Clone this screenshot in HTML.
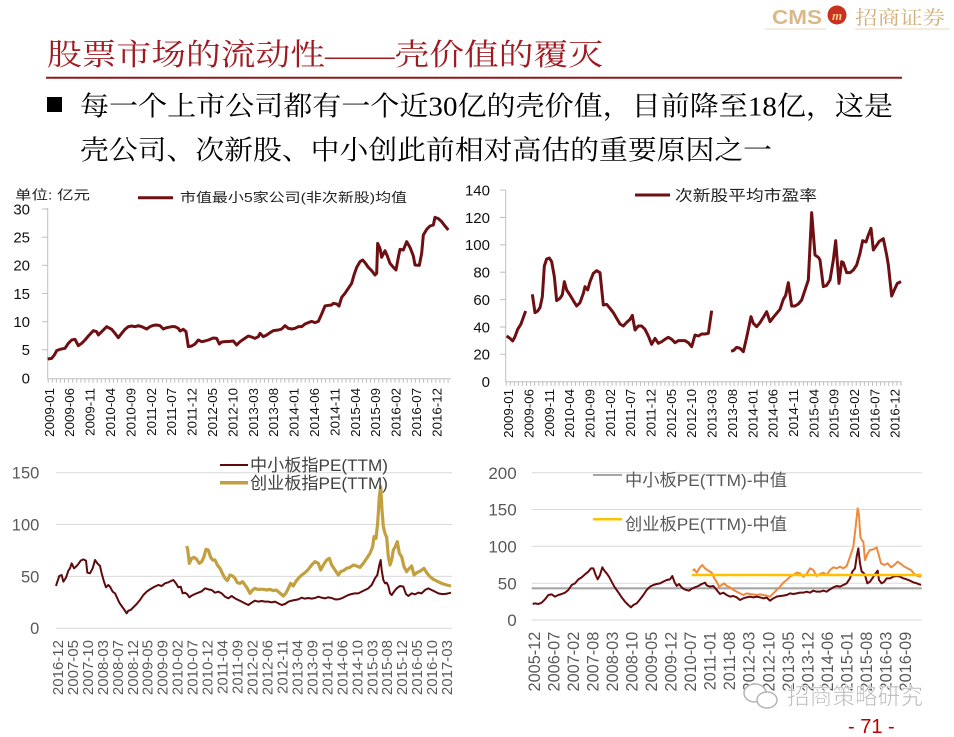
<!DOCTYPE html>
<html><head><meta charset="utf-8">
<style>
html,body{margin:0;padding:0;background:#fff;}
svg{display:block;}
.ax{font-family:"Liberation Sans",sans-serif;}
.cj{font-family:"Liberation Sans","Noto Sans CJK SC",sans-serif;}
.sf{font-family:"Liberation Serif","Noto Serif CJK SC",serif;}
</style></head><body>
<svg width="954" height="737" viewBox="0 0 954 737" xmlns="http://www.w3.org/2000/svg">
<rect width="954" height="737" fill="#fff"/>

<!-- Logo -->
<text x="772" y="24" class="ax" font-size="20" font-weight="bold" fill="#D9B98A" textLength="50" lengthAdjust="spacingAndGlyphs">CMS</text>
<circle cx="837" cy="15" r="9.5" fill="#C8321E"/>
<text x="837" y="20" class="sf" font-size="13" font-style="italic" font-weight="bold" fill="#F6D08A" text-anchor="middle">m</text>
<text x="855" y="24" class="sf" font-size="19" fill="#D2B07C" textLength="90" lengthAdjust="spacingAndGlyphs">招商证券</text>
<line x1="765" y1="29" x2="826" y2="29" stroke="#E8D8BC" stroke-width="1"/>
<line x1="855" y1="29" x2="950" y2="29" stroke="#E8D8BC" stroke-width="1"/>

<!-- Title -->
<text x="47" y="65" class="sf" font-size="30" fill="#A01A20" textLength="556" lengthAdjust="spacingAndGlyphs">股票市场的流动性——壳价值的覆灭</text>
<line x1="46" y1="77.7" x2="902" y2="77.7" stroke="#8E1C1E" stroke-width="2"/>

<!-- Bullet text -->
<rect x="47" y="97" width="15" height="15" fill="#000"/>
<text x="80" y="115.5" class="sf" font-size="27" fill="#000" textLength="813" lengthAdjust="spacingAndGlyphs">每一个上市公司都有一个近30亿的壳价值，目前降至18亿，这是</text>
<text x="80" y="159.5" class="sf" font-size="27" fill="#000" textLength="692" lengthAdjust="spacingAndGlyphs">壳公司、次新股、中小创此前相对高估的重要原因之一</text>

<!-- ============ Chart 1 (top-left) ============ -->
<text x="15" y="199.5" class="cj" font-size="13" fill="#222" textLength="75" lengthAdjust="spacingAndGlyphs">单位: 亿元</text>
<line x1="138" y1="197.7" x2="173" y2="197.7" stroke="#6E1013" stroke-width="3"/>
<text x="180" y="202" class="cj" font-size="13" fill="#222" textLength="227" lengthAdjust="spacingAndGlyphs">市值最小5家公司(非次新股)均值</text>
<g class="ax" font-size="15" fill="#111" text-anchor="end">
<text x="30" y="214.4">30</text>
<text x="30" y="242.6">25</text>
<text x="30" y="270.7">20</text>
<text x="30" y="298.9">15</text>
<text x="30" y="327.1">10</text>
<text x="30" y="355.2">5</text>
<text x="30" y="383.4">0</text>
</g>
<g stroke="#BFBFBF" stroke-width="1">
<line x1="47.7" y1="208" x2="47.7" y2="379"/>
<line x1="42" y1="209" x2="47.7" y2="209"/><line x1="42" y1="237.2" x2="47.7" y2="237.2"/><line x1="42" y1="265.3" x2="47.7" y2="265.3"/><line x1="42" y1="293.5" x2="47.7" y2="293.5"/><line x1="42" y1="321.7" x2="47.7" y2="321.7"/><line x1="42" y1="349.8" x2="47.7" y2="349.8"/>
<line x1="47.7" y1="378.7" x2="451" y2="378.7"/>
</g>
<line x1="47.7" y1="380.8" x2="451" y2="380.8" stroke="#BFBFBF" stroke-width="4" stroke-dasharray="1 3.08"/>
<g class="ax" font-size="13.3" fill="#111" text-anchor="end">
<text transform="translate(53.8,388) rotate(-90)">2009-01</text>
<text transform="translate(74.2,388) rotate(-90)">2009-06</text>
<text transform="translate(94.6,388) rotate(-90)">2009-11</text>
<text transform="translate(115,388) rotate(-90)">2010-04</text>
<text transform="translate(135.4,388) rotate(-90)">2010-09</text>
<text transform="translate(155.8,388) rotate(-90)">2011-02</text>
<text transform="translate(176.2,388) rotate(-90)">2011-07</text>
<text transform="translate(196.6,388) rotate(-90)">2011-12</text>
<text transform="translate(217,388) rotate(-90)">2012-05</text>
<text transform="translate(237.4,388) rotate(-90)">2012-10</text>
<text transform="translate(257.8,388) rotate(-90)">2013-03</text>
<text transform="translate(278.2,388) rotate(-90)">2013-08</text>
<text transform="translate(298.6,388) rotate(-90)">2014-01</text>
<text transform="translate(319,388) rotate(-90)">2014-06</text>
<text transform="translate(339.4,388) rotate(-90)">2014-11</text>
<text transform="translate(359.8,388) rotate(-90)">2015-04</text>
<text transform="translate(380.2,388) rotate(-90)">2015-09</text>
<text transform="translate(400.6,388) rotate(-90)">2016-02</text>
<text transform="translate(421,388) rotate(-90)">2016-07</text>
<text transform="translate(441.4,388) rotate(-90)">2016-12</text>
</g>
<g transform="translate(0,180) scale(0.333333)">
<polyline fill="none" stroke="#6E1013" stroke-width="3" vector-effect="non-scaling-stroke" stroke-linejoin="round" points="143,537 155,535 163,525 170,512 180,508 195,505 205,490 215,480 225,478 235,497 245,490 255,480 265,468 280,452 290,455 295,465 305,455 320,440 335,448 345,460 355,473 365,460 375,448 385,440 395,438 405,440 415,437 425,440 440,447 450,440 460,436 470,435 480,437 490,447 500,443 515,440 525,440 535,445 540,453 550,448 558,455 565,500 575,498 585,492 595,480 605,485 615,483 625,480 640,474 650,475 658,492 665,486 675,485 690,484 700,483 710,495 720,485 730,478 745,468 755,471 765,475 775,470 780,460 790,470 800,465 810,458 820,452 835,450 845,447 855,437 865,445 875,447 885,445 895,440 905,440 915,432 925,428 935,424 945,428 955,424 965,402 975,378 985,376 995,375 1000,370 1010,372 1017,378 1025,352 1035,340 1045,325 1055,310 1062,285 1070,262 1080,245 1088,240 1095,248 1105,262 1115,272 1125,285 1130,280 1133,190 1140,205 1145,232 1155,212 1162,228 1170,250 1180,262 1188,270 1195,232 1200,208 1210,210 1220,185 1230,202 1240,228 1245,255 1258,256 1265,220 1270,165 1280,148 1290,138 1300,135 1305,112 1315,116 1325,125 1335,138 1345,150"/>
</g>

<!-- ============ Chart 2 (top-right) ============ -->
<line x1="635" y1="195" x2="670" y2="195" stroke="#6E1013" stroke-width="3"/>
<text x="675" y="200.5" class="cj" font-size="15" fill="#222" textLength="142" lengthAdjust="spacingAndGlyphs">次新股平均市盈率</text>
<g class="ax" font-size="15" fill="#111" text-anchor="end">
<text x="490" y="195.4">140</text>
<text x="490" y="222.8">120</text>
<text x="490" y="250.2">100</text>
<text x="490" y="277.6">80</text>
<text x="490" y="305">60</text>
<text x="490" y="332.4">40</text>
<text x="490" y="359.7">20</text>
<text x="490" y="387.1">0</text>
</g>
<g stroke="#BFBFBF" stroke-width="1">
<line x1="505.7" y1="190" x2="505.7" y2="381.7"/>
<line x1="500" y1="190" x2="505.7" y2="190"/><line x1="500" y1="217.4" x2="505.7" y2="217.4"/><line x1="500" y1="244.8" x2="505.7" y2="244.8"/><line x1="500" y1="272.2" x2="505.7" y2="272.2"/><line x1="500" y1="299.6" x2="505.7" y2="299.6"/><line x1="500" y1="327" x2="505.7" y2="327"/><line x1="500" y1="354.3" x2="505.7" y2="354.3"/>
<line x1="505.7" y1="381.7" x2="901.7" y2="381.7"/>
</g>
<line x1="505.7" y1="383.7" x2="901.7" y2="383.7" stroke="#BFBFBF" stroke-width="4" stroke-dasharray="1 3.07"/>
<g class="ax" font-size="13.3" fill="#111" text-anchor="end">
<text transform="translate(513.1,389) rotate(-90)">2009-01</text>
<text transform="translate(533.4,389) rotate(-90)">2009-06</text>
<text transform="translate(553.8,389) rotate(-90)">2009-11</text>
<text transform="translate(574.1,389) rotate(-90)">2010-04</text>
<text transform="translate(594.5,389) rotate(-90)">2010-09</text>
<text transform="translate(614.8,389) rotate(-90)">2011-02</text>
<text transform="translate(635.2,389) rotate(-90)">2011-07</text>
<text transform="translate(655.5,389) rotate(-90)">2011-12</text>
<text transform="translate(675.9,389) rotate(-90)">2012-05</text>
<text transform="translate(696.2,389) rotate(-90)">2012-10</text>
<text transform="translate(716.6,389) rotate(-90)">2013-03</text>
<text transform="translate(736.9,389) rotate(-90)">2013-08</text>
<text transform="translate(757.3,389) rotate(-90)">2014-01</text>
<text transform="translate(777.6,389) rotate(-90)">2014-06</text>
<text transform="translate(798,389) rotate(-90)">2014-11</text>
<text transform="translate(818.3,389) rotate(-90)">2015-04</text>
<text transform="translate(838.7,389) rotate(-90)">2015-09</text>
<text transform="translate(859,389) rotate(-90)">2016-02</text>
<text transform="translate(879.4,389) rotate(-90)">2016-07</text>
<text transform="translate(899.7,389) rotate(-90)">2016-12</text>
</g>
<g transform="translate(465,180) scale(0.333333)" fill="none" stroke="#6E1013" stroke-width="3" stroke-linejoin="round">
<polyline vector-effect="non-scaling-stroke" points="125,468 135,475 143,483 150,470 158,448 168,432 175,412 182,393"/>
<polyline vector-effect="non-scaling-stroke" points="202,343 210,398 218,393 225,383 232,350 238,258 245,237 253,234 260,245 268,290 275,362 285,355 292,344 298,305 305,330 315,345 325,362 335,378 345,368 355,340 360,320 368,330 375,305 385,280 395,272 405,278 415,375 425,373 435,385 445,398 455,415 465,432 475,438 485,427 495,418 502,406 510,450 520,438 530,438 540,448 550,468 560,493 570,475 580,490 590,485 600,478 610,472 620,478 630,488 640,482 650,482 660,482 670,488 680,500 690,465 700,468 710,462 720,462 730,460 740,392"/>
<polyline vector-effect="non-scaling-stroke" points="798,513 805,512 815,502 825,505 835,515 845,472 858,410 865,430 875,440 885,428 895,412 905,395 915,425 925,412 935,400 945,388 955,358 962,346 970,308 980,378 990,378 1000,372 1010,360 1020,330 1030,300 1040,98 1050,225 1060,232 1065,240 1075,320 1085,316 1095,300 1105,240 1112,182 1122,310 1130,245 1135,248 1145,278 1155,278 1165,270 1175,255 1185,220 1193,182 1203,186 1210,165 1218,145 1225,210 1232,200 1242,185 1255,176 1265,225 1270,255 1280,348 1290,325 1297,310 1308,305"/>
</g>

<!-- ============ Chart 3 (bottom-left) ============ -->
<g stroke="#D9D9D9" stroke-width="1">
<line x1="56" y1="472.7" x2="452" y2="472.7"/>
<line x1="56" y1="524.5" x2="452" y2="524.5"/>
<line x1="56" y1="576.4" x2="452" y2="576.4"/>
<line x1="56" y1="628.3" x2="452" y2="628.3"/>
</g>
<g class="ax" font-size="16.5" fill="#595959" text-anchor="end">
<text x="39.3" y="478.6">150</text>
<text x="39.3" y="530.4">100</text>
<text x="39.3" y="582.3">50</text>
<text x="39.3" y="634.2">0</text>
</g>
<g class="ax" font-size="15" fill="#595959" text-anchor="end">
<text transform="translate(62.9,640) rotate(-90)">2016-12</text>
<text transform="translate(77.9,640) rotate(-90)">2007-05</text>
<text transform="translate(92.8,640) rotate(-90)">2007-10</text>
<text transform="translate(107.8,640) rotate(-90)">2008-03</text>
<text transform="translate(122.8,640) rotate(-90)">2008-07</text>
<text transform="translate(137.8,640) rotate(-90)">2008-12</text>
<text transform="translate(152.7,640) rotate(-90)">2009-05</text>
<text transform="translate(167.7,640) rotate(-90)">2009-09</text>
<text transform="translate(182.7,640) rotate(-90)">2010-02</text>
<text transform="translate(197.6,640) rotate(-90)">2010-07</text>
<text transform="translate(212.6,640) rotate(-90)">2010-12</text>
<text transform="translate(227.6,640) rotate(-90)">2011-04</text>
<text transform="translate(242.5,640) rotate(-90)">2011-09</text>
<text transform="translate(257.5,640) rotate(-90)">2012-02</text>
<text transform="translate(272.5,640) rotate(-90)">2012-06</text>
<text transform="translate(287.5,640) rotate(-90)">2012-11</text>
<text transform="translate(302.4,640) rotate(-90)">2013-04</text>
<text transform="translate(317.4,640) rotate(-90)">2013-09</text>
<text transform="translate(332.4,640) rotate(-90)">2014-01</text>
<text transform="translate(347.3,640) rotate(-90)">2014-06</text>
<text transform="translate(362.3,640) rotate(-90)">2014-10</text>
<text transform="translate(377.3,640) rotate(-90)">2015-03</text>
<text transform="translate(392.2,640) rotate(-90)">2015-08</text>
<text transform="translate(407.2,640) rotate(-90)">2015-12</text>
<text transform="translate(422.2,640) rotate(-90)">2016-05</text>
<text transform="translate(437.2,640) rotate(-90)">2016-10</text>
<text transform="translate(452.1,640) rotate(-90)">2017-03</text>
</g>
<g transform="translate(0,450) scale(0.333333)" fill="none" stroke-linejoin="round">
<polyline vector-effect="non-scaling-stroke" stroke="#5E0A0C" stroke-width="2" points="168,408 172,395 178,378 185,375 190,395 198,383 205,362 210,355 215,340 222,355 228,350 235,342 242,332 250,328 258,332 262,368 270,370 278,355 285,330 292,340 300,348 305,370 312,395 318,412 325,405 330,410 338,425 345,430 352,445 358,458 365,468 372,478 380,490 385,482 392,480 400,472 410,462 420,450 430,435 440,425 450,418 460,412 468,408 475,405 485,408 495,400 505,397 515,392 520,390 528,400 535,412 542,410 548,430 555,428 562,433 568,442 575,437 585,432 595,428 605,424 615,415 625,418 635,420 645,428 655,425 665,430 675,440 685,445 695,438 705,445 715,450 725,455 735,460 745,465 755,458 765,452 775,455 785,453 795,455 805,455 815,457 825,455 835,460 845,465 855,462 865,455 875,452 885,450 895,448 905,443 915,446 925,444 935,446 945,444 955,440 965,443 975,445 985,442 995,444 1005,448 1015,448 1025,445 1035,440 1045,435 1055,432 1065,430 1075,430 1085,425 1095,420 1105,415 1115,405 1125,385 1132,375 1138,345 1142,330 1145,360 1150,390 1155,400 1160,398 1165,408 1170,430 1175,435 1182,425 1190,415 1200,408 1210,410 1218,432 1225,438 1235,430 1245,433 1255,428 1265,430 1275,420 1285,415 1295,420 1305,425 1315,430 1325,432 1335,432 1345,430 1353,428"/>
<polyline vector-effect="non-scaling-stroke" stroke="#C2A040" stroke-width="3.2" points="560,288 563,298 568,340 575,325 582,322 590,328 598,340 605,335 612,320 618,298 625,300 632,322 638,330 645,330 652,345 660,355 668,372 675,385 682,392 690,375 698,378 705,385 712,398 720,400 728,395 735,405 742,415 750,430 758,420 765,415 772,418 780,418 790,418 800,420 810,418 820,422 828,420 835,425 843,432 850,438 857,430 865,415 872,400 880,408 887,395 895,385 905,375 915,368 925,358 935,345 945,335 955,340 962,360 970,345 980,330 988,325 995,345 1005,360 1015,375 1022,365 1030,362 1040,355 1050,352 1060,345 1070,348 1080,352 1090,340 1100,325 1110,310 1118,290 1122,260 1128,265 1133,220 1138,140 1142,110 1146,180 1150,230 1155,250 1160,262 1165,320 1170,345 1175,330 1180,300 1185,292 1192,275 1198,310 1205,320 1212,350 1220,365 1228,355 1235,348 1242,375 1250,368 1258,365 1265,360 1272,355 1280,368 1290,380 1300,388 1310,393 1320,398 1330,402 1340,405 1353,408"/>
</g>
<line x1="220" y1="465" x2="248" y2="465" stroke="#5E0A0C" stroke-width="2"/>
<text x="250" y="471" class="cj" font-size="17" fill="#404040" textLength="138" lengthAdjust="spacingAndGlyphs">中小板指PE(TTM)</text>
<line x1="220" y1="482.7" x2="248" y2="482.7" stroke="#C2A040" stroke-width="3.5"/>
<text x="250" y="489" class="cj" font-size="17" fill="#404040" textLength="138" lengthAdjust="spacingAndGlyphs">创业板指PE(TTM)</text>

<!-- ============ Chart 4 (bottom-right) ============ -->
<g stroke="#D9D9D9" stroke-width="1">
<line x1="531.7" y1="472.7" x2="921.7" y2="472.7"/>
<line x1="531.7" y1="509.5" x2="921.7" y2="509.5"/>
<line x1="531.7" y1="546.3" x2="921.7" y2="546.3"/>
<line x1="531.7" y1="583.2" x2="921.7" y2="583.2"/>
<line x1="531.7" y1="620" x2="921.7" y2="620"/>
</g>
<g class="ax" font-size="17" fill="#595959" text-anchor="end">
<text x="516.7" y="478.8">200</text>
<text x="516.7" y="515.6">150</text>
<text x="516.7" y="552.4">100</text>
<text x="516.7" y="589.3">50</text>
<text x="516.7" y="626.1">0</text>
</g>
<g class="ax" font-size="16.3" fill="#595959" text-anchor="end">
<text transform="translate(539.9,631.7) rotate(-90)">2005-12</text>
<text transform="translate(559.4,631.7) rotate(-90)">2006-07</text>
<text transform="translate(578.9,631.7) rotate(-90)">2007-02</text>
<text transform="translate(598.5,631.7) rotate(-90)">2007-08</text>
<text transform="translate(618,631.7) rotate(-90)">2008-03</text>
<text transform="translate(637.5,631.7) rotate(-90)">2008-10</text>
<text transform="translate(657.1,631.7) rotate(-90)">2009-05</text>
<text transform="translate(676.6,631.7) rotate(-90)">2009-12</text>
<text transform="translate(696.1,631.7) rotate(-90)">2010-07</text>
<text transform="translate(715.7,631.7) rotate(-90)">2011-01</text>
<text transform="translate(735.2,631.7) rotate(-90)">2011-08</text>
<text transform="translate(754.7,631.7) rotate(-90)">2012-03</text>
<text transform="translate(774.3,631.7) rotate(-90)">2012-10</text>
<text transform="translate(793.8,631.7) rotate(-90)">2013-05</text>
<text transform="translate(813.3,631.7) rotate(-90)">2013-12</text>
<text transform="translate(832.9,631.7) rotate(-90)">2014-06</text>
<text transform="translate(852.4,631.7) rotate(-90)">2015-01</text>
<text transform="translate(871.9,631.7) rotate(-90)">2015-08</text>
<text transform="translate(891.5,631.7) rotate(-90)">2016-03</text>
<text transform="translate(911,631.7) rotate(-90)">2016-09</text>
</g>
<line x1="531.7" y1="588.3" x2="921.7" y2="588.3" stroke="#A6A6A6" stroke-width="2.2"/>
<g transform="translate(465,450) scale(0.333333)" fill="none" stroke-linejoin="round">
<polyline vector-effect="non-scaling-stroke" stroke="#ED8A3E" stroke-width="2" points="683,362 688,358 695,368 705,352 712,345 720,355 730,362 740,368 748,385 755,395 762,410 770,405 778,400 785,408 795,412 805,420 815,425 825,430 835,435 845,430 855,432 865,433 875,435 885,433 895,435 905,437 915,440 925,430 935,420 945,410 955,398 965,390 975,380 985,375 995,368 1005,370 1015,380 1025,372 1035,355 1045,360 1055,378 1065,372 1075,368 1085,375 1095,360 1105,352 1115,355 1125,350 1135,355 1145,348 1155,320 1165,290 1172,230 1178,175 1182,195 1186,260 1190,270 1195,275 1200,330 1208,310 1215,300 1225,298 1235,292 1240,310 1248,340 1258,345 1268,340 1278,352 1288,345 1298,335 1308,342 1318,350 1328,355 1338,360 1348,372 1358,378 1368,380"/>
<polyline vector-effect="non-scaling-stroke" stroke="#660A0C" stroke-width="2" points="203,462 210,460 220,462 230,458 240,448 250,435 260,433 270,440 280,435 290,432 300,428 310,420 320,405 330,400 340,388 350,382 360,373 370,365 378,355 385,355 392,375 398,388 405,375 412,352 418,362 425,370 432,380 440,395 448,410 455,420 462,430 470,442 480,455 490,465 498,472 505,465 515,460 525,448 535,435 545,420 555,410 565,405 575,402 585,400 595,395 605,390 615,388 622,378 628,395 635,408 642,402 650,412 658,418 665,420 672,422 680,416 690,412 700,408 710,402 720,398 725,406 735,410 745,408 755,420 765,432 775,428 785,435 795,440 805,438 815,442 825,450 835,445 845,442 855,440 865,442 875,440 885,442 895,445 905,443 915,452 925,445 935,440 945,438 955,437 965,435 975,430 985,432 995,430 1005,428 1015,428 1025,425 1035,428 1045,422 1055,425 1065,425 1075,422 1085,425 1095,418 1105,412 1115,408 1125,410 1135,405 1145,400 1155,385 1162,365 1170,355 1175,320 1180,295 1185,340 1190,365 1195,368 1200,375 1207,400 1215,395 1222,385 1232,370 1238,362 1242,390 1250,400 1258,395 1265,385 1275,385 1285,380 1295,378 1305,380 1315,385 1325,388 1335,392 1345,397 1355,400 1368,405"/>
</g>
<line x1="691.7" y1="575" x2="921.7" y2="575" stroke="#FFC000" stroke-width="2.5"/>
<line x1="593" y1="475" x2="622" y2="475" stroke="#A6A6A6" stroke-width="2"/>
<text x="625" y="486" class="cj" font-size="17" fill="#595959" textLength="162" lengthAdjust="spacingAndGlyphs">中小板PE(TTM)-中值</text>
<line x1="593" y1="519.3" x2="622" y2="519.3" stroke="#FFC000" stroke-width="2.5"/>
<text x="625" y="530" class="cj" font-size="17" fill="#595959" textLength="162" lengthAdjust="spacingAndGlyphs">创业板PE(TTM)-中值</text>

<!-- Watermark -->
<ellipse cx="755" cy="693" rx="11" ry="9" fill="#fff" stroke="#B5B5B5" stroke-width="1.5"/>
<ellipse cx="767" cy="700" rx="10" ry="8" fill="#fff" stroke="#B5B5B5" stroke-width="1.5"/>
<text x="787" y="704" class="cj" font-size="23" fill="#B8B8B8" stroke="#fff" stroke-width="0.6" textLength="136" lengthAdjust="spacingAndGlyphs">招商策略研究</text>

<!-- Page number -->
<text x="848" y="733" class="ax" font-size="20" fill="#C00000">- 71 -</text>
</svg>
</body></html>
